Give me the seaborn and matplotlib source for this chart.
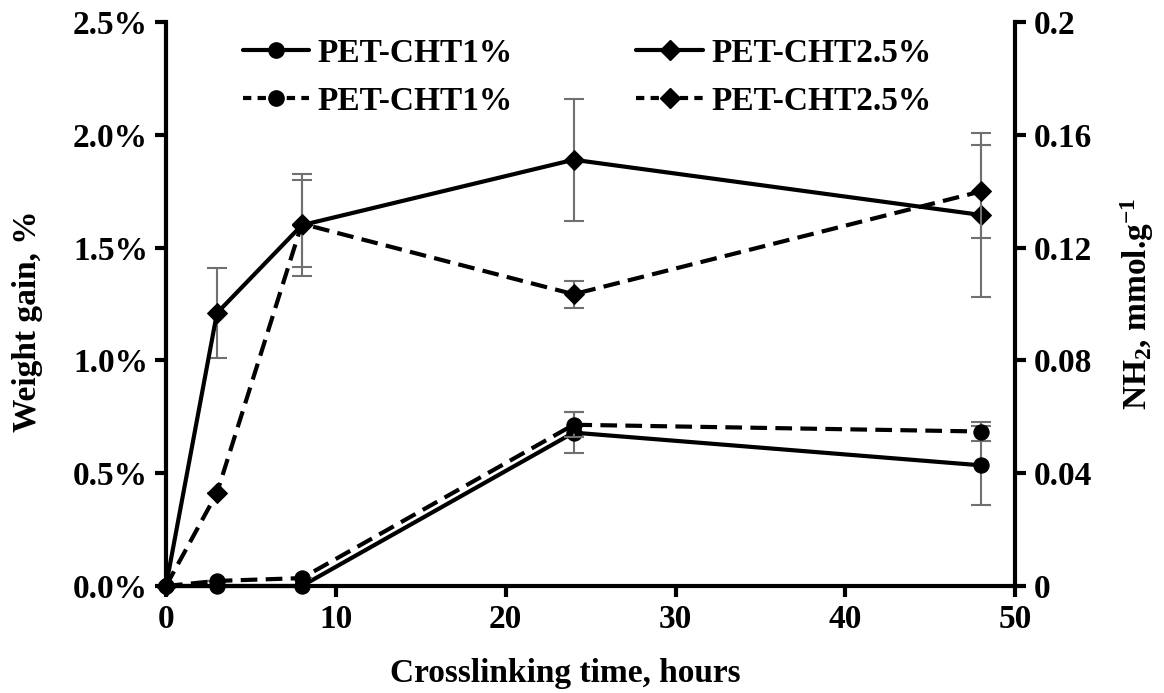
import matplotlib
matplotlib.use("Agg")
import matplotlib.pyplot as plt
import seaborn as sns
import pandas as pd
import numpy as np
from matplotlib.lines import Line2D
from matplotlib.ticker import FixedLocator, FixedFormatter

# ---------------- data ----------------
hours = [0, 3, 8, 24, 48]
wg_cht1 = [0.0, 0.0, 0.0, 0.68, 0.535]          # weight gain, %
wg_cht1_err = [0.0, 0.0, 0.0, 0.09, 0.175]
wg_cht25 = [0.0, 1.21, 1.60, 1.89, 1.645]
wg_cht25_err = [0.0, 0.20, 0.225, 0.27, 0.365]
nh2_cht1 = [0.0, 0.0018, 0.0028, 0.0572, 0.0548]  # mmol/g
nh2_cht1_err = [0.0, 0.0, 0.0, 0.0045, 0.0035]
nh2_cht25 = [0.0, 0.033, 0.1285, 0.1035, 0.1400]
nh2_cht25_err = [0.0, 0.0, 0.0155, 0.0048, 0.0165]

labels = ["PET-CHT1%", "PET-CHT2.5%"]
x_ticks = [0, 10, 20, 30, 40, 50]
left_ticks = [0.0, 0.5, 1.0, 1.5, 2.0, 2.5]
left_ticklabels = ["0.0%", "0.5%", "1.0%", "1.5%", "2.0%", "2.5%"]
right_ticks = [0.0, 0.04, 0.08, 0.12, 0.16, 0.2]
right_ticklabels = ["0", "0.04", "0.08", "0.12", "0.16", "0.2"]

# ---------------- style ----------------
sns.set_theme(style="white")
plt.rcParams["font.family"] = ["Liberation Serif", "DejaVu Serif"]
plt.rcParams["font.weight"] = "bold"
plt.rcParams["text.color"] = "black"
plt.rcParams["axes.labelcolor"] = "black"
plt.rcParams["xtick.color"] = "black"
plt.rcParams["ytick.color"] = "black"
plt.rcParams["mathtext.fontset"] = "custom"
plt.rcParams["mathtext.rm"] = "Liberation Serif:bold"
plt.rcParams["mathtext.bf"] = "Liberation Serif:bold"
plt.rcParams["mathtext.it"] = "Liberation Serif:bold"

FS = 24
LW = 3.0
ERRC = "#707070"
DASH = (4, 2)

fig = plt.figure(figsize=(11.64, 6.93), dpi=100)
ax = fig.add_axes([0.1426, 0.1544, 0.8722 - 0.1426, 0.968 - 0.1544])
ax2 = ax.twinx()

df_wg = pd.DataFrame({"t": hours * 2,
                      "v": wg_cht1 + wg_cht25,
                      "s": [labels[0]] * 5 + [labels[1]] * 5})
df_nh = pd.DataFrame({"t": hours * 2,
                      "v": nh2_cht1 + nh2_cht25,
                      "s": [labels[0]] * 5 + [labels[1]] * 5})

# error bars (behind)
ekw = dict(fmt="none", ecolor=ERRC, elinewidth=1.5, capsize=7, capthick=1.5, zorder=1)
ax.errorbar(hours, wg_cht1, yerr=wg_cht1_err, **ekw)
ax.errorbar(hours, wg_cht25, yerr=wg_cht25_err, **ekw)
ax2.errorbar(hours, nh2_cht1, yerr=nh2_cht1_err, **ekw)
ax2.errorbar(hours, nh2_cht25, yerr=nh2_cht25_err, **ekw)

markers = {labels[0]: "o", labels[1]: "D"}
sizes = {labels[0]: 11, labels[1]: 10}
for lab in labels:
    sub = df_wg[df_wg.s == lab]
    sns.lineplot(data=sub, x="t", y="v", ax=ax, color="black", lw=LW,
                 marker=markers[lab], markersize=sizes[lab],
                 markeredgecolor="black", legend=False, zorder=3, clip_on=False)
    sub2 = df_nh[df_nh.s == lab]
    sns.lineplot(data=sub2, x="t", y="v", ax=ax2, color="black", lw=LW,
                 marker=markers[lab], markersize=sizes[lab],
                 markeredgecolor="black", legend=False, zorder=3, clip_on=False)
for ln in ax2.get_lines():
    if ln.get_marker() in ("o", "D"):
        ln.set_linestyle((0, DASH))

ax.set_xlim(0, 50)
ax.set_ylim(0, 2.5)
ax2.set_ylim(0, 0.2)

ax.xaxis.set_major_locator(FixedLocator(x_ticks))
ax.yaxis.set_major_locator(FixedLocator(left_ticks))
ax.yaxis.set_major_formatter(FixedFormatter(left_ticklabels))
ax2.yaxis.set_major_locator(FixedLocator(right_ticks))
ax2.yaxis.set_major_formatter(FixedFormatter(right_ticklabels))

for a in (ax, ax2):
    a.spines["top"].set_visible(False)
    for side in ("left", "right", "bottom"):
        a.spines[side].set_linewidth(3)
        a.spines[side].set_color("black")
    a.tick_params(direction="out", length=8, width=3, labelsize=FS,
                  colors="black", pad=5)
ax.spines["right"].set_visible(False)
ax2.spines["left"].set_visible(False)
ax2.spines["bottom"].set_visible(False)
ax.tick_params(axis="y", left=True)
ax.tick_params(axis="x", bottom=True)
ax2.tick_params(axis="y", right=True)
for t in ax.get_xticklabels() + ax.get_yticklabels() + ax2.get_yticklabels():
    t.set_fontweight("bold")

ax.set_xlabel("Crosslinking time, hours", fontsize=FS, fontweight="bold")
ax.set_ylabel("Weight gain, %", fontsize=FS, fontweight="bold")
ax2.set_ylabel(r"NH$_{2}$, mmol.g$^{-1}$", fontsize=FS, fontweight="bold",
               rotation=90)
ax.xaxis.set_label_coords(0.47, -0.128)
ax.yaxis.set_label_coords(-0.145, 0.47)
ax2.yaxis.set_label_coords(1.121, 0.5)

# legend
h = [Line2D([], [], color="black", lw=LW, marker="o", markersize=11),
     Line2D([], [], color="black", lw=LW, ls=(0, (2, 1.5)), marker="o", markersize=11),
     Line2D([], [], color="black", lw=LW, marker="D", markersize=10),
     Line2D([], [], color="black", lw=LW, ls=(0, (2, 1.5)), marker="D", markersize=10)]
leg = ax2.legend(h, [labels[0], labels[0], labels[1], labels[1]], ncol=2,
                 loc="upper left", bbox_to_anchor=(0.055, 1.025), frameon=False,
                 prop={"family": "Liberation Serif", "weight": "bold", "size": FS},
                 handlelength=2.0, handletextpad=0.25, columnspacing=3.7,
                 labelspacing=0.5)

fig.savefig("out.png", dpi=100)
